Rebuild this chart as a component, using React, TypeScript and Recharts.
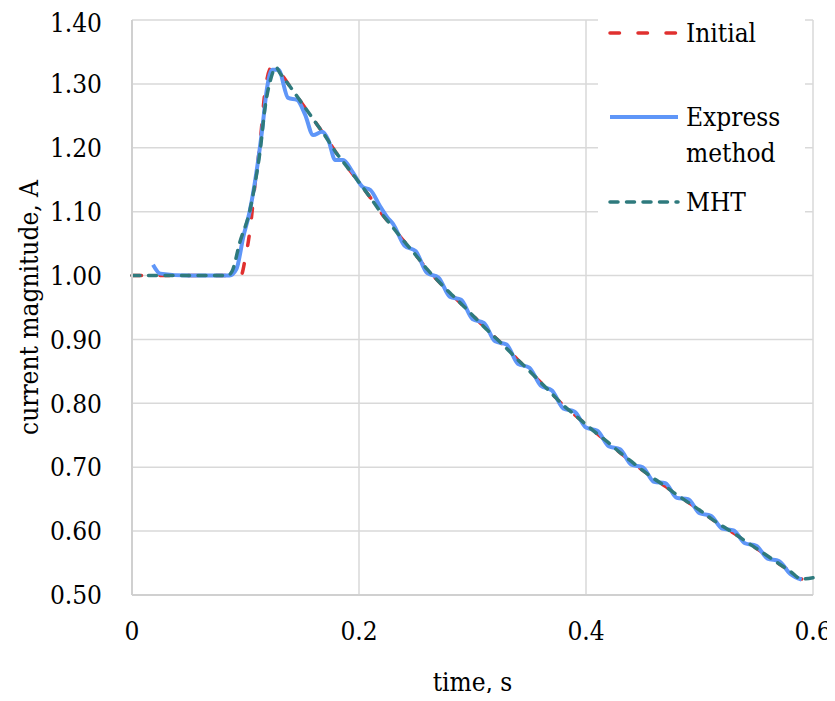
import React from "react";
import { LineChart, Line, XAxis, YAxis, CartesianGrid } from "recharts";

const serif = '"DejaVu Serif Condensed", "DejaVu Serif", serif';
const FS = 26;

const xTicks = [0, 0.2, 0.4, 0.6];
const yTicks = [0.5, 0.6, 0.7, 0.8, 0.9, 1.0, 1.1, 1.2, 1.3, 1.4];

// shared decline after the peak (Initial and MHT coincide here)
const declineTime = [
  0.13, 0.14, 0.15, 0.16, 0.17, 0.18, 0.19, 0.2, 0.21, 0.22, 0.23, 0.24, 0.25,
  0.26, 0.27, 0.28, 0.29, 0.3, 0.31, 0.32, 0.33, 0.34, 0.35, 0.36, 0.37, 0.38,
  0.39, 0.4, 0.41, 0.42, 0.43, 0.44, 0.45, 0.46, 0.47, 0.48, 0.49, 0.5, 0.51,
  0.52, 0.53, 0.54, 0.55, 0.56, 0.57, 0.58, 0.59,
];
const declineCurrent = [
  1.318, 1.294, 1.269, 1.244, 1.219, 1.192, 1.169, 1.146, 1.122, 1.097, 1.075,
  1.053, 1.032, 1.01, 0.991, 0.973, 0.956, 0.938, 0.92, 0.903, 0.886, 0.868,
  0.851, 0.833, 0.815, 0.797, 0.782, 0.767, 0.752, 0.738, 0.723, 0.709, 0.695,
  0.682, 0.67, 0.657, 0.645, 0.633, 0.62, 0.608, 0.597, 0.585, 0.573, 0.561,
  0.549, 0.537, 0.525,
];

const initialRiseTime = [0, 0.096, 0.0996, 0.104, 0.1085, 0.113, 0.117, 0.123];
const initialRise = [1.0, 1.0, 1.025, 1.072, 1.145, 1.21, 1.286, 1.326];

const mhtRiseTime = [0, 0.084, 0.088, 0.095, 0.104, 0.1085, 0.113, 0.117, 0.122, 0.127];
const mhtRise = [1.0, 1.0, 1.006, 1.052, 1.103, 1.145, 1.197, 1.26, 1.306, 1.326];
const mhtTailTime = [0.6];
const mhtTail = [0.527];

const expressTime = [
  0.0185, 0.025, 0.05, 0.086, 0.092, 0.098, 0.104, 0.1095, 0.1146, 0.119,
  0.1235, 0.129, 0.1376, 0.1455, 0.1525, 0.1596, 0.1675, 0.173, 0.179, 0.186,
  0.194, 0.203, 0.21, 0.2187, 0.225, 0.23, 0.24, 0.25, 0.26, 0.27, 0.28, 0.29,
  0.3, 0.31, 0.32, 0.33, 0.34, 0.35, 0.36, 0.37, 0.38, 0.39, 0.4, 0.41, 0.42,
  0.43, 0.44, 0.45, 0.46, 0.47, 0.48, 0.49, 0.5, 0.51, 0.52, 0.53, 0.54, 0.55,
  0.56, 0.57, 0.58, 0.59,
];
const expressCurrent = [
  1.017, 1.003, 1.0, 1.0, 1.01, 1.06, 1.103, 1.16, 1.227, 1.294, 1.322, 1.322,
  1.278, 1.275, 1.252, 1.22, 1.225, 1.212, 1.181, 1.181, 1.163, 1.139, 1.134,
  1.108, 1.091, 1.081, 1.047, 1.038, 1.004, 0.997, 0.967, 0.962, 0.932, 0.926,
  0.897, 0.892, 0.862, 0.856, 0.828, 0.82, 0.792, 0.787, 0.762, 0.757, 0.733,
  0.728, 0.704, 0.7, 0.677, 0.675, 0.652, 0.65, 0.628, 0.624, 0.604, 0.601,
  0.581, 0.577, 0.557, 0.553, 0.533, 0.524,
];

const zip = (ts: number[], vs: number[]) => ts.map((t, i) => ({ t, v: vs[i] }));

const initialData = zip([...initialRiseTime, ...declineTime], [...initialRise, ...declineCurrent]);
const mhtData = zip(
  [...mhtRiseTime, ...declineTime, ...mhtTailTime],
  [...mhtRise, ...declineCurrent, ...mhtTail]
);
const expressData = zip(expressTime, expressCurrent);

const RED = "#e0302f";
const BLUE = "#5f96f8";
const TEAL = "#2e7a7d";

const tickStyle = { fontFamily: serif, fontSize: FS, fill: "#000" };

const YTitle = (props: any) => {
  const vb = props.viewBox || {};
  const cy = vb.y + vb.height / 2;
  return (
    <text
      x={21}
      y={cy}
      transform={`rotate(-90 21 ${cy})`}
      textAnchor="middle"
      dominantBaseline="central"
      fontFamily={serif}
      fontSize={FS}
      fill="#000"
    >
      current magnitude, A
    </text>
  );
};

function LegendBox() {
  const t = { fontFamily: serif, fontSize: FS, fill: "#000" };
  return (
    <svg
      width={207}
      height={212}
      style={{ position: "absolute", left: 590, top: 8, background: "#fff" }}
    >
      <line x1={12} x2={80} y1={17} y2={17} stroke={RED} strokeWidth={3.5} strokeDasharray="9.5 18.5" strokeLinecap="round" />
      <text x={88} y={17} dominantBaseline="central" style={t}>Initial</text>
      <line x1={12} x2={80} y1={101} y2={101} stroke={BLUE} strokeWidth={4} />
      <text x={88} y={101} dominantBaseline="central" style={t}>Express</text>
      <text x={88} y={137} dominantBaseline="central" style={t}>method</text>
      <line x1={12} x2={80} y1={186} y2={186} stroke={TEAL} strokeWidth={3.5} strokeDasharray="8 8.5" strokeLinecap="round" />
      <text x={88} y={186} dominantBaseline="central" style={t}>MHT</text>
    </svg>
  );
}

export default function App() {
  return (
    <div style={{ position: "relative", width: 827, height: 693, marginBottom: -8 }}>
      <LineChart width={827} height={693} margin={{ top: 12, right: 22, bottom: 0, left: 0 }}>
        <CartesianGrid stroke="#d9d9d9" strokeWidth={1.5} />
        <XAxis
          type="number"
          dataKey="t"
          domain={[0, 0.6]}
          ticks={xTicks}
          tickFormatter={(v: number) => String(v)}
          tick={tickStyle}
          tickLine={false}
          tickSize={0}
          tickMargin={27}
          height={106}
          axisLine={{ stroke: "#d0d0d0", strokeWidth: 2 }}
          label={{
            value: "time, s",
            position: "insideBottom",
            offset: 10,
            fontFamily: serif,
            fontSize: FS,
            fill: "#000",
          }}
        />
        <YAxis
          type="number"
          domain={[0.5, 1.4]}
          ticks={yTicks}
          tickFormatter={(v: number) => v.toFixed(2)}
          tick={tickStyle}
          tickLine={false}
          tickSize={0}
          tickMargin={30}
          width={124}
          axisLine={{ stroke: "#d0d0d0", strokeWidth: 2 }}
          label={<YTitle />}
        />
        <Line
          data={initialData}
          dataKey="v"
          type="monotone"
          stroke={RED}
          strokeWidth={3.5}
          strokeDasharray="9.5 18.5"
          strokeLinecap="round"
          dot={false}
          activeDot={false}
          isAnimationActive={false}
        />
        <Line
          data={expressData}
          dataKey="v"
          type="monotone"
          stroke={BLUE}
          strokeWidth={4}
          dot={false}
          activeDot={false}
          isAnimationActive={false}
        />
        <Line
          data={mhtData}
          dataKey="v"
          type="monotone"
          stroke={TEAL}
          strokeWidth={3.5}
          strokeDasharray="8 8.5"
          strokeLinecap="round"
          dot={false}
          activeDot={false}
          isAnimationActive={false}
        />
      </LineChart>
      <LegendBox />
    </div>
  );
}
